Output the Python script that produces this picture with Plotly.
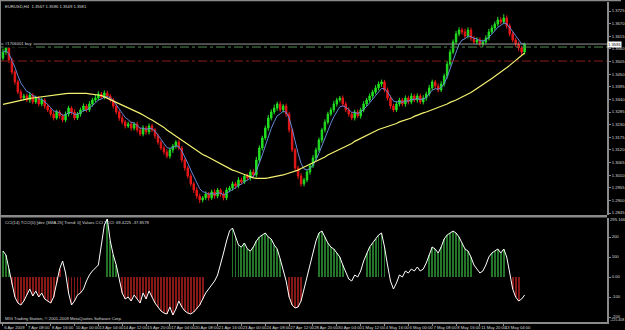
import plotly.graph_objects as go
import pandas as pd

# ---------------- data (prices in pips, i.e. price*10000) ----------------
open0_pips = 13520
close_pips = [
    13546, 13564, 13512, 13459, 13416, 13372, 13346, 13355, 13337, 13359,
    13329, 13346, 13320, 13337, 13311, 13294, 13276, 13259, 13285, 13268,
    13250, 13276, 13302, 13285, 13259, 13276, 13294, 13311, 13294, 13320,
    13337, 13346, 13363, 13350, 13368, 13355, 13337, 13311, 13285, 13259,
    13241, 13224, 13233, 13215, 13233, 13207, 13189, 13215, 13198, 13224,
    13207, 13181, 13154, 13128, 13111, 13093, 13120, 13137, 13154, 13128,
    13076, 13041, 13006, 12972, 12945, 12919, 12902, 12911, 12928, 12911,
    12937, 12919, 12945, 12928, 12911, 12945, 12954, 12972, 12963, 12989,
    12980, 13006, 12998, 13024, 13011, 13076, 13128, 13172, 13215, 13259,
    13285, 13302, 13320, 13294, 13311, 13276, 13207, 13120, 13041, 13006,
    12972, 12989, 13024, 13050, 13085, 13120, 13163, 13207, 13241, 13276,
    13294, 13320, 13337, 13346, 13320, 13294, 13276, 13259, 13285, 13268,
    13294, 13320, 13337, 13355, 13372, 13390, 13407, 13416, 13381, 13346,
    13311, 13294, 13320, 13337, 13320, 13346, 13329, 13355, 13337, 13355,
    13329, 13346, 13363, 13390, 13416, 13398, 13381, 13407, 13442, 13494,
    13546, 13590, 13625, 13642, 13634, 13616, 13642, 13607, 13590, 13599,
    13581, 13590, 13607, 13634, 13651, 13668, 13686, 13677, 13695, 13660,
    13625, 13599, 13581, 13564, 13546, 13581]
wick_up_pips = [
    15, 20, 12, 10, 8, 10, 12, 9, 10, 12, 8, 10, 9, 11, 8, 10, 9, 12, 10, 8,
    9, 11, 10, 8, 12, 9, 10, 11, 8, 12, 10, 14, 12, 9, 11, 10, 8, 9, 10, 8,
    12, 9, 10, 11, 8, 10, 9, 12, 10, 11, 9, 8, 10, 9, 11, 12, 10, 9, 8, 10,
    9, 8, 10, 11, 9, 12, 10, 8, 11, 9, 10, 12, 9, 8, 10, 11, 9, 10, 8, 12,
    10, 9, 11, 10, 12, 14, 12, 10, 11, 13, 12, 15, 10, 12, 9, 11, 10, 8, 9, 10,
    12, 9, 11, 10, 12, 10, 11, 9, 12, 10, 11, 13, 10, 9, 11, 10, 12, 9, 10, 11,
    10, 12, 9, 11, 10, 12, 11, 10, 9, 10, 11, 9, 12, 10, 9, 11, 10, 12, 9, 11,
    10, 12, 11, 13, 10, 9, 11, 12, 10, 14, 12, 11, 13, 12, 10, 14, 12, 11, 10, 12,
    11, 10, 12, 13, 12, 11, 14, 12, 16, 11, 10, 12, 9, 10, 8, 6]
wick_dn_pips = [
    10, 12, 14, 10, 12, 9, 11, 10, 8, 12, 10, 9, 11, 10, 12, 9, 10, 11, 8, 12,
    10, 9, 11, 12, 10, 9, 11, 8, 10, 9, 12, 10, 11, 9, 10, 12, 9, 11, 10, 12,
    10, 11, 9, 12, 10, 11, 9, 10, 12, 11, 10, 12, 11, 9, 12, 10, 11, 13, 12, 10,
    11, 12, 10, 11, 13, 12, 14, 11, 10, 12, 9, 11, 10, 12, 11, 10, 9, 11, 12, 10,
    11, 9, 10, 12, 11, 10, 9, 11, 10, 12, 11, 10, 12, 9, 11, 13, 12, 10, 11, 14,
    12, 11, 10, 12, 9, 11, 10, 12, 11, 10, 9, 11, 12, 10, 11, 9, 12, 10, 11, 10,
    12, 10, 11, 9, 12, 10, 11, 12, 10, 11, 12, 10, 9, 11, 10, 12, 11, 10, 9, 11,
    10, 11, 12, 10, 11, 12, 10, 9, 11, 12, 10, 9, 11, 10, 12, 11, 10, 12, 9, 11,
    10, 12, 11, 10, 9, 12, 10, 11, 10, 12, 11, 10, 12, 14, 12, 10]
slow_ma_pips = [
    13318, 13321, 13324, 13327, 13330, 13335, 13337, 13340, 13342, 13344,
    13346, 13348, 13350, 13352, 13354, 13356, 13358, 13360, 13361, 13364,
    13364, 13365, 13366, 13366, 13367, 13367, 13368, 13367, 13366, 13364,
    13363, 13361, 13359, 13357, 13351, 13345, 13340, 13334, 13329, 13324,
    13318, 13311, 13305, 13298, 13292, 13285, 13279, 13272, 13263, 13257,
    13250, 13242, 13235, 13226, 13218, 13207, 13198, 13189, 13181, 13172,
    13163, 13152, 13144, 13135, 13126, 13115, 13107, 13100, 13094, 13087,
    13080, 13072, 13065, 13059, 13052, 13046, 13039, 13032, 13028, 13024,
    13019, 13013, 13008, 13002, 12998, 12996, 12995, 12995, 12996, 12998,
    13000, 13002, 13005, 13008, 13011, 13015, 13019, 13024, 13028, 13032,
    13039, 13045, 13051, 13057, 13063, 13070, 13076, 13083, 13089, 13098,
    13104, 13111, 13115, 13122, 13128, 13135, 13141, 13148, 13157, 13163,
    13170, 13176, 13183, 13189, 13196, 13202, 13209, 13213, 13218, 13222,
    13226, 13231, 13235, 13242, 13246, 13250, 13255, 13259, 13266, 13272,
    13276, 13281, 13285, 13290, 13294, 13298, 13305, 13309, 13313, 13320,
    13327, 13331, 13337, 13344, 13350, 13357, 13364, 13370, 13379, 13387,
    13396, 13405, 13414, 13422, 13431, 13440, 13451, 13459, 13468, 13477,
    13488, 13499, 13509, 13520, 13531, 13542]
cci = [
    130, 110, 40, -40, -100, -130, -140, -120, -90, -60,
    -95, -70, -100, -80, -110, -120, -130, -100, -30, 40,
    80, 20, -80, -140, -120, -90, -80, -60, -20, 10,
    30, 45, 60, 160, 260, 290, 180, 110, 60, -10,
    -80, -110, -100, -120, -90, -110, -130, -80, -110, -70,
    -100, -130, -150, -170, -180, -185, -150, -190, -160, -120,
    -150, -170, -180, -185, -175, -160, -140, -110, -80, -60,
    -40, -20, 10, 60, 120, 180, 230, 245, 200, 160,
    150, 170, 140, 130, 150, 180, 200, 210, 220, 200,
    190, 160, 140, 90, 40, -20, -100, -140, -155, -150,
    -120, -60, 0, 60, 120, 180, 220, 230, 200, 170,
    150, 140, 120, 100, 60, 20, -10, -20, 10, 0,
    30, 80, 120, 150, 170, 190, 210, 220, 150, 60,
    -20, -60, -30, 10, 0, 30, 20, 40, 30, 50,
    30, 40, 70, 110, 150, 140, 120, 150, 190, 210,
    220, 230, 220, 200, 170, 140, 130, 100, 60, 40,
    20, 30, 60, 100, 120, 130, 140, 120, 140, 100,
    20, -60, -100, -120, -110, -90]
# TCCI trend state per bar: g = up-trend bar, r = down-trend bar, . = no bar
tcci_state = (
    "ggg" "rrrrrrrrrrrrrrrrr" ".." "rrrrr" "........" "gggg" "."
    "rrrrrrrrrrrrrrrrrrrrrrrrrrrr" "........." "ggggggggggggg" "gggg" ".."
    "rrrrr" "....." "ggggggggg" "......." "ggggggg" ".............."
    "ggggggggggggggg" "......" "ggggg" ".." "rrr" "..")

date_labels = ["6 Apr 2009", "7 Apr 08:00", "8 Apr 16:00", "10 Apr 00:00",
               "13 Apr 04:00", "14 Apr 12:00", "15 Apr 20:00", "17 Apr 04:00",
               "20 Apr 08:00", "21 Apr 16:00", "23 Apr 00:00", "24 Apr 08:00",
               "27 Apr 12:00", "28 Apr 20:00", "30 Apr 04:00", "1 May 12:00",
               "4 May 16:00", "6 May 00:00", "7 May 08:00", "8 May 16:00",
               "11 May 20:00", "13 May 04:00"]
label_step = 8
price_ticks = [1.3725, 1.3670, 1.3615, 1.3560, 1.3505, 1.3450, 1.3395, 1.3340,
               1.3285, 1.3230, 1.3175, 1.3120, 1.3065, 1.3010, 1.2955, 1.2900,
               1.2845]
cci_ticks = [200, 100, 0, -100, -200]
cci_tick_text = ["200", "100", "0.00", "-100", "-200"]
bid_price = 1.3581
order_price = 1.3568
stop_price = 1.3507
title_text = "EURUSD,H4  1.3567 1.3586 1.3549 1.3581"
cci_title = "CCI(14) TCCI(0) [dev (SMA 25] Trend: 0] Values CCI TCCI: 69.4225 -37.8578"
cci_max_label = "295.166"
cci_min_label = "-225.408"

# ---------------- derived series ----------------
n = len(close_pips)
idx = list(range(n))
close = [c / 10000 for c in close_pips]
opens = [open0_pips / 10000] + close[:-1]
high = [max(o, c) + u / 10000 for o, c, u in zip(opens, close, wick_up_pips)]
low = [min(o, c) - d / 10000 for o, c, d in zip(opens, close, wick_dn_pips)]
fast_ma = pd.Series(close).ewm(span=5, adjust=False).mean().tolist()
slow_ma = [v / 10000 for v in slow_ma_pips]
state = (tcci_state + "." * n)[:n]
hist_x = [i for i in idx if state[i] != "."]
hist_y = [cci[i] for i in hist_x]
hist_c = ["#24742a" if state[i] == "g" else "#861818" for i in hist_x]

W, H = 625, 330
plot_right = 611 / W
main_dom = [1 - 215 / H, 1 - 2 / H]
cci_dom = [1 - 322 / H, 1 - 218 / H]
FONT = "Liberation Sans"
FS = 4.2
TXT = "#d8d8d8"
GRAY = "#8a8a8a"

fig = go.Figure()
fig.add_trace(go.Candlestick(
    x=idx, open=opens, high=high, low=low, close=close,
    xaxis="x", yaxis="y",
    increasing=dict(line=dict(color="#22e022", width=1), fillcolor="#22e022"),
    decreasing=dict(line=dict(color="#e81818", width=1), fillcolor="#e81818"),
    whiskerwidth=0, showlegend=False, hoverinfo="skip"))
fig.add_trace(go.Scatter(x=idx, y=fast_ma, mode="lines", xaxis="x", yaxis="y",
                         line=dict(color="#6688d8", width=1), showlegend=False,
                         hoverinfo="skip"))
fig.add_trace(go.Scatter(x=idx, y=slow_ma, mode="lines", xaxis="x", yaxis="y",
                         line=dict(color="#f4f070", width=1.2), showlegend=False,
                         hoverinfo="skip"))
fig.add_trace(go.Bar(x=hist_x, y=hist_y, xaxis="x", yaxis="y2", width=0.3,
                     marker=dict(color=hist_c, line=dict(width=0)),
                     showlegend=False, hoverinfo="skip"))
fig.add_trace(go.Scatter(x=idx, y=cci, mode="lines", xaxis="x", yaxis="y2",
                         line=dict(color="#ffffff", width=1), showlegend=False,
                         hoverinfo="skip"))

shapes = [
    dict(type="line", xref="paper", x0=0, x1=plot_right, yref="y", y0=bid_price,
         y1=bid_price, line=dict(color="#9a9a9a", width=1)),
    dict(type="line", xref="paper", x0=0, x1=plot_right, yref="y", y0=order_price,
         y1=order_price, line=dict(color="#4f8a4f", width=1, dash="dashdot")),
    dict(type="line", xref="paper", x0=0, x1=plot_right, yref="y", y0=stop_price,
         y1=stop_price, line=dict(color="#8a1c1c", width=1, dash="dashdot")),
    dict(type="rect", xref="paper", yref="paper", x0=0, x1=plot_right,
         y0=1 - 217.5 / H, y1=1 - 215 / H, fillcolor=GRAY, line=dict(width=0)),
    dict(type="line", xref="paper", yref="paper", x0=0, x1=1, y0=1 - 0.5 / H,
         y1=1 - 0.5 / H, line=dict(color=GRAY, width=1.5)),
    dict(type="line", xref="paper", yref="paper", x0=0.5 / W, x1=0.5 / W,
         y0=1 - 322 / H, y1=1, line=dict(color=GRAY, width=1)),
]

def txt(text, x, y, **kw):
    d = dict(text=text, xref="paper", yref="paper", x=x, y=y, xanchor="left",
             yanchor="middle", showarrow=False,
             font=dict(size=FS, color=TXT, family=FONT))
    d.update(kw)
    return d

ann = [
    txt(title_text, 3 / W, 1 - 6 / H),
    txt("#1706001 buy", 3 / W, 1 - 44 / H, bgcolor="#000000"),
    txt(cci_title, 3 / W, 1 - 222 / H),
    txt("MIG Trading Station, \u00a9 2001-2009 MetaQuotes Software Corp.",
        3 / W, 1 - 318.5 / H),
    dict(text="%.4f" % bid_price, xref="paper", yref="y", x=plot_right, y=bid_price,
         xanchor="left", yanchor="middle", showarrow=False, bgcolor="#ffffff",
         borderpad=0, font=dict(size=FS, color="#000000", family=FONT)),
    txt(cci_max_label, plot_right + 1 / W, 1 - 219.5 / H),
    txt(cci_min_label, plot_right + 1 / W, 1 - 319.5 / H,
        font=dict(size=3.6, color=TXT, family=FONT)),
]

tick_bars = idx[::label_step][:len(date_labels)]

fig.update_layout(
    width=W, height=H, margin=dict(l=0, r=0, t=0, b=0),
    paper_bgcolor="#000000", plot_bgcolor="#000000",
    showlegend=False, hovermode=False,
    font=dict(family=FONT, size=FS, color=TXT),
    shapes=shapes, annotations=ann,
    xaxis=dict(domain=[0, plot_right], range=[-1, 202.67], anchor="y2",
               rangeslider=dict(visible=False), showgrid=False, zeroline=False,
               showline=True, linecolor=GRAY, linewidth=1.5,
               tickmode="array", tickvals=tick_bars, ticktext=date_labels,
               ticks="outside", ticklen=2, tickcolor=GRAY, tickangle=0,
               ticklabelposition="outside right",
               tickfont=dict(size=FS, color=TXT, family=FONT)),
    yaxis=dict(domain=main_dom, range=[1.28363, 1.37642], anchor="x", side="right",
               showgrid=False, zeroline=False, showline=True, linecolor=GRAY,
               linewidth=1.5, tickmode="array", tickvals=price_ticks,
               ticktext=["%.4f" % t for t in price_ticks], ticks="outside",
               ticklen=2, tickcolor=GRAY,
               tickfont=dict(size=FS, color=TXT, family=FONT)),
    yaxis2=dict(domain=cci_dom, range=[-225, 295], anchor="x", side="right",
                showgrid=False, zeroline=False, showline=True, linecolor=GRAY,
                linewidth=1.5, tickmode="array", tickvals=cci_ticks,
                ticktext=cci_tick_text, ticks="outside", ticklen=2, tickcolor=GRAY,
                tickfont=dict(size=FS, color=TXT, family=FONT)),
)

fig.write_html("out.html")
